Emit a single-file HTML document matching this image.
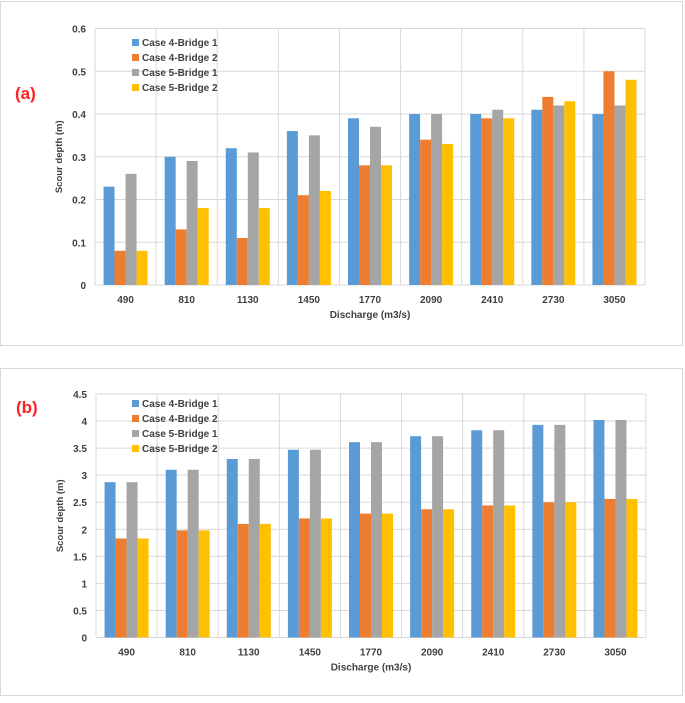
<!DOCTYPE html>
<html><head><meta charset="utf-8">
<style>
body{margin:0;background:#fff;font-family:"Liberation Sans",sans-serif;}
svg text{font-family:"Liberation Sans",sans-serif;}
</style></head>
<body>
<svg id="svg" width="685" height="698" xmlns="http://www.w3.org/2000/svg">
<rect x="0.5" y="1.5" width="682" height="344" fill="#fff" stroke="#d9d9d9"/>
<rect x="0.5" y="368.5" width="682" height="327" fill="#fff" stroke="#d9d9d9"/>
</svg>
<script>
const categories=["490","810","1130","1450","1770","2090","2410","2730","3050"];
const seriesNames=["Case 4-Bridge 1","Case 4-Bridge 2","Case 5-Bridge 1","Case 5-Bridge 2"];
const colors=["#5b9bd5","#ed7d31","#a5a5a5","#ffc000"];
const a_c4b1=[0.23,0.30,0.32,0.36,0.39,0.40,0.40,0.41,0.40];
const a_c4b2=[0.08,0.13,0.11,0.21,0.28,0.34,0.39,0.44,0.50];
const a_c5b1=[0.26,0.29,0.31,0.35,0.37,0.40,0.41,0.42,0.42];
const a_c5b2=[0.08,0.18,0.18,0.22,0.28,0.33,0.39,0.43,0.48];
const a_ticks=["0","0.1","0.2","0.3","0.4","0.5","0.6"];
const b_c4b1=[2.87,3.10,3.30,3.47,3.61,3.72,3.83,3.93,4.02];
const b_c4b2=[1.83,1.98,2.10,2.20,2.29,2.37,2.44,2.50,2.56];
const b_c5b1=[2.87,3.10,3.30,3.47,3.61,3.72,3.83,3.93,4.02];
const b_c5b2=[1.83,1.98,2.10,2.20,2.29,2.37,2.44,2.50,2.56];
const b_ticks=["0","0.5","1","1.5","2","2.5","3","3.5","4","4.5"];

const NS="http://www.w3.org/2000/svg";
const svg=document.getElementById('svg');
function mk(tag,attrs,parent){const e=document.createElementNS(NS,tag);for(const k in attrs)e.setAttribute(k,attrs[k]);(parent||svg).appendChild(e);return e;}

function chart(cfg){
  const g=mk('g',{});
  
  
  const L=cfg.left,R=cfg.right,T=cfg.top,B=cfg.bottom;
  const maxV=parseFloat(cfg.ticks[cfg.ticks.length-1]);
  const y=v=>B-(v/maxV)*(B-T);
  const cw=(R-L)/categories.length;
  const x=i=>L+i*cw;
  cfg.ticks.forEach(t=>{
    const v=parseFloat(t);
    const ln=mk('line',{x1:L,x2:R,y1:y(v),y2:y(v),stroke:'#d9d9d9','stroke-width':1},g);
    
    
    const tx=mk('text',{x:L-9,y:y(v)+4,'text-anchor':'end','font-size':10,'font-weight':'bold',fill:'#404040'},g);
    tx.textContent=t;
    
    
  });
  for(let i=0;i<=categories.length;i++){
    const ln=mk('line',{x1:x(i),x2:x(i),y1:T,y2:B,stroke:'#d9d9d9','stroke-width':1},g);
    
    
  }
  const bw=cw*0.18;
  cfg.series.forEach((s,si)=>{
    s.forEach((v,i)=>{
      const bx=x(i)+cw*0.14+si*bw;
      const r=mk('rect',{x:bx,y:y(v),width:bw,height:B-y(v),fill:colors[si]},g);
      
      
    });
  });
  categories.forEach((c,i)=>{
    const tx=mk('text',{x:x(i)+cw/2,y:B+18,'text-anchor':'middle','font-size':10,'font-weight':'bold',fill:'#404040'},g);
    tx.textContent=c;
    
    
  });
  const xt=mk('text',{x:(L+R)/2,y:B+33,'text-anchor':'middle','font-size':10,'font-weight':'bold',fill:'#404040'},g);
  xt.textContent='Discharge (m3/s)';
  
  
  const yt=mk('text',{x:0,y:0,transform:`translate(${L-33},${(T+B)/2}) rotate(-90)`,'text-anchor':'middle','font-size':9.5,'font-weight':'bold',fill:'#404040'},g);
  yt.textContent='Scour depth (m)';
  
  
  seriesNames.forEach((n,si)=>{
    const ly=cfg.legTop+si*15;
    const sq=mk('rect',{x:132,y:ly-7,width:7,height:7,fill:colors[si]},g);
    
    
    const tx=mk('text',{x:142,y:ly,'font-size':10,'font-weight':'bold',fill:'#404040'},g);
    tx.textContent=n;
    
    
  });
  const lab=mk('text',{x:cfg.labX,y:cfg.labY,'font-size':17,'font-weight':'bold',fill:'#ff2020'},g);
  lab.textContent=cfg.label;
  
  
}
chart({name:'chart-a',left:95,right:645,top:28.5,bottom:285,ticks:a_ticks,series:[a_c4b1,a_c4b2,a_c5b1,a_c5b2],legTop:46,label:'(a)',labX:15,labY:99});
chart({name:'chart-b',left:96,right:646,top:394,bottom:637.5,ticks:b_ticks,series:[b_c4b1,b_c4b2,b_c5b1,b_c5b2],legTop:407,label:'(b)',labX:16,labY:413});
</script>
</body></html>
